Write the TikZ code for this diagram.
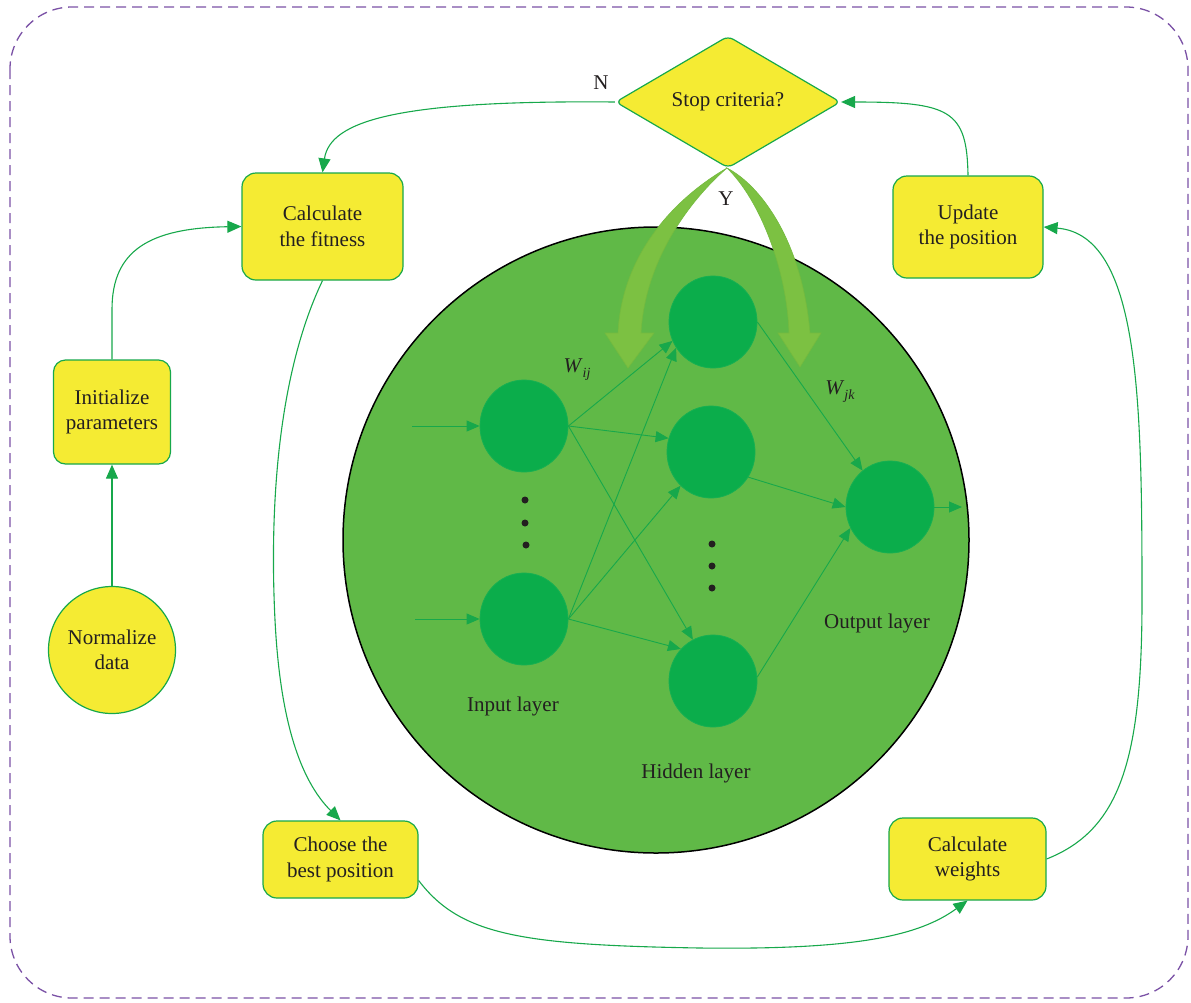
\documentclass[tikz,border=0pt]{standalone}
\usepackage{fontspec}
\setmainfont{Liberation Serif}
\usetikzlibrary{shapes.geometric,arrows.meta}
\definecolor{ybox}{HTML}{F5EB33}
\definecolor{gline}{HTML}{17A84B}
\definecolor{netfill}{HTML}{60B947}
\definecolor{neuron}{HTML}{0BAD4B}
\definecolor{neuronedge}{HTML}{16B052}
\definecolor{bigarrow}{HTML}{7CC142}
\definecolor{bigarrowedge}{HTML}{74BA3F}
\definecolor{dashpurple}{HTML}{7B52A6}
\definecolor{txt}{HTML}{231F20}
\begin{document}
\begin{tikzpicture}[x=1pt,y=-1pt,
  box/.style={draw=gline, line width=1.2pt, fill=ybox, rounded corners=14pt, align=center, text=txt, font=\fontsize{21}{25.5}\selectfont, inner sep=0pt},
  conn/.style={draw=gline, line width=1.1pt, -{Triangle[length=14pt,width=12pt]}},
  neur/.style={ellipse, fill=neuron, draw=neuronedge, line width=0.8pt, minimum width=88pt, minimum height=92pt, inner sep=0pt},
  nnarrow/.style={draw=gline, line width=0.9pt, -{Triangle[length=13pt,width=11pt]}},
  lbl/.style={text=txt, font=\fontsize{21}{25}\selectfont, inner sep=0pt},
  dotnode/.style={circle, fill=txt, inner sep=0pt, minimum size=7pt}
]
\useasboundingbox (0,0) rectangle (1191,1002);

% dashed frame
\draw[dashpurple, line width=1.3pt, dash pattern=on 10pt off 6pt, rounded corners=62pt] (10,7) rectangle (1188,998);

% big network circle
\node[circle, draw=black, line width=1.5pt, fill=netfill, minimum size=626pt, inner sep=0pt] (net) at (656,540) {};

% flow boxes
\node[box, minimum width=161pt, minimum height=107pt] (fit) at (322.5,226.5) {Calculate\\the fitness};
\node[box, minimum width=150pt, minimum height=102pt] (upd) at (968,227) {Update\\the position};
\node[box, minimum width=117pt, minimum height=104pt, rounded corners=12pt] (init) at (112,412) {Initialize\\parameters};
\node[circle, draw=gline, line width=1.2pt, fill=ybox, minimum size=127pt, inner sep=0pt, align=center, text=txt, font=\fontsize{21}{25.5}\selectfont] (norm) at (112,650) {Normalize\\data};
\node[box, minimum width=155pt, minimum height=77pt] (best) at (340.5,859.5) {Choose the\\best position};
\node[box, minimum width=157pt, minimum height=82pt] (wts) at (967.5,859) {Calculate\\weights};
\node[diamond, draw=gline, fill=ybox, line width=1.2pt, rounded corners=6pt, minimum width=225pt, minimum height=132pt, aspect=1.7, inner sep=0pt, text=txt, font=\fontsize{21}{25}\selectfont] (dia) at (728,102) {Stop criteria?};

% Y arrows
\filldraw[fill=bigarrow, draw=bigarrowedge, line width=0.6pt] (727,168) .. controls (680,195) and (622,250) .. (618,333) -- (605,333) -- (628,368) -- (654,333) -- (641,333) .. controls (645,260) and (690,200) .. (727,168) -- cycle;
\filldraw[fill=bigarrow, draw=bigarrowedge, line width=0.6pt] (727,168) .. controls (760,185) and (802,240) .. (810,333) -- (821,333) -- (800,367) -- (778,333) -- (789,333) .. controls (787,270) and (760,200) .. (727,168) -- cycle;

\node[lbl] (nlab) at (601,83) {N};
\node[lbl] (ylab) at (726,199) {Y};

% flow connectors
\draw[conn] (norm.north) -- (init.south);
\draw[conn] (init.north) -- +(0,-50) .. controls (112,250) and (150,228) .. (fit.west);
\draw[conn] (dia.west) .. controls (400,100) and (330,120) .. (fit.north);
\draw[conn] (fit.south) .. controls (275,380) and (270,520) .. (275,620) .. controls (280,720) and (300,780) .. (best.north);
\draw[conn] (best.-15) .. controls (460,935) and (520,945) .. (700,948) .. controls (860,950) and (920,935) .. (wts.south);
\draw[conn] (wts.east) .. controls (1120,830) and (1142,760) .. (1142,600) .. controls (1142,400) and (1140,235) .. (upd.east);
\draw[conn] (upd.north) .. controls (967,110) and (950,102) .. (dia.east);

% neurons
\node[neur] (in1) at (524,426) {};
\node[neur] (in2) at (524,619) {};
\node[neur] (h1) at (713,322) {};
\node[neur] (h2) at (711,452) {};
\node[neur] (h3) at (713,681) {};
\node[neur] (out) at (890,507) {};

\node[dotnode] (d1) at (525,500) {};
\node[dotnode] (d2) at (525,523) {};
\node[dotnode] (d3) at (526,545) {};
\node[dotnode] (d4) at (712,544) {};
\node[dotnode] (d5) at (712,566) {};
\node[dotnode] (d6) at (712,588) {};

\coordinate (x1) at (412,426);
\coordinate (x2) at (415,619);
\coordinate (y1) at (962,507);

\draw[nnarrow] (x1) -- (in1.west);
\draw[nnarrow] (x2) -- (in2.west);
\draw[nnarrow] (in1.east) -- (h1.205);
\draw[nnarrow] (in1.east) -- (h2.162);
\draw[nnarrow] (in1.east) -- (h3.116);
\draw[nnarrow] (in2.east) -- (h1.215);
\draw[nnarrow] (in2.east) -- (h2.228);
\draw[nnarrow] (in2.east) -- (h3.135);
\draw[nnarrow] (h1.east) -- (out.127);
\draw[nnarrow] (h2.-34) -- (out.west);
\draw[nnarrow] (h3.5) -- (out.208);
\draw[nnarrow] (out.east) -- (y1);

\node[lbl] (wij) at (577,370) {\textit{W}\raisebox{-5pt}{\fontsize{14}{14}\selectfont\textit{ij}}};
\node[lbl] (wjk) at (840,392) {\textit{W}\raisebox{-5pt}{\fontsize{14}{14}\selectfont\textit{jk}}};
\node[lbl] (inl) at (513,706) {Input layer};
\node[lbl] (hdl) at (696,773) {Hidden layer};
\node[lbl] (otl) at (877,623) {Output layer};
\end{tikzpicture}
\end{document}
